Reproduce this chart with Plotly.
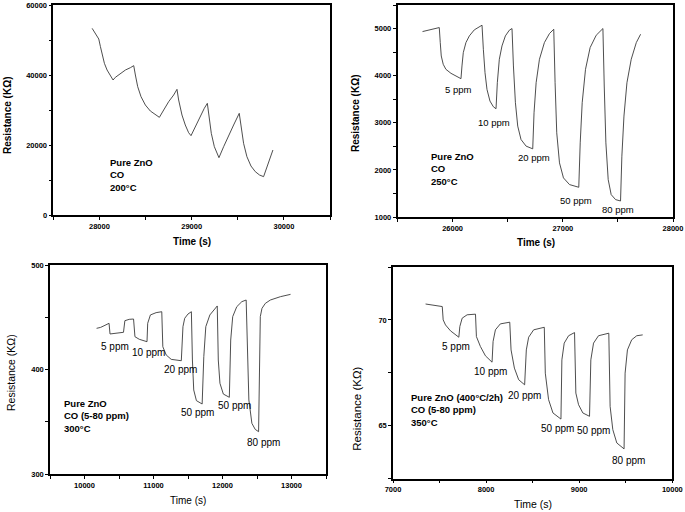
import plotly.graph_objects as go

# ---------------- data ----------------
# Panel A: Pure ZnO, CO, 200 °C
t200 = [27921, 27993, 28011, 28029, 28054, 28083, 28119, 28148, 28173, 28227, 28282, 28336, 28372,
        28390, 28415, 28451, 28498, 28552, 28606, 28650, 28697, 28751, 28805, 28841,
        28859, 28895, 28931, 28967, 28993, 29040, 29094, 29137, 29170,
        29188, 29213, 29246, 29274, 29296, 29347, 29401, 29455, 29516,
        29534, 29563, 29599, 29643, 29690, 29736, 29780, 29816, 29852, 29881]
r200 = [53333, 50286, 48095, 45714, 43333, 41429, 39714, 38571, 39333, 40476, 41429, 42095, 42667,
        40000, 36667, 33810, 31429, 29714, 28571, 27905, 30000, 32381, 34286, 35905,
        32857, 28571, 25714, 23524, 22667, 25238, 28571, 30476, 31905,
        28095, 23333, 19524, 17429, 16381, 19524, 22857, 25714, 29048,
        25238, 20476, 16667, 14000, 12381, 11429, 10952, 13810, 16190, 18571]

# Panel B: Pure ZnO, CO, 250 °C
t250 = [25727, 25879, 25888, 25897, 25915, 25939, 25985, 26030, 26076,
        26085, 26097, 26121, 26152, 26197, 26236, 26267,
        26279, 26294, 26312, 26339, 26370, 26394,
        26406, 26424, 26448, 26479, 26515, 26539,
        26552, 26570, 26591, 26621, 26667, 26727,
        26739, 26758, 26788, 26833, 26879, 26918,
        26930, 26945, 26970, 27006, 27061, 27145,
        27158, 27176, 27206, 27248, 27303, 27364,
        27376, 27391, 27412, 27439, 27479, 27524,
        27536, 27555, 27582, 27621, 27667, 27706]
r250 = [4936, 5021, 4702, 4418, 4241, 4135, 4050, 3993, 3936,
        4206, 4489, 4702, 4844, 4972, 5035, 5071,
        4560, 4064, 3709, 3461, 3340, 3298,
        3851, 4348, 4631, 4844, 4965, 5000,
        4206, 3426, 2929, 2645, 2504, 2447,
        3213, 3851, 4348, 4702, 4894, 4986,
        3851, 2787, 2149, 1830, 1688, 1631,
        2574, 3426, 4135, 4596, 4858, 5000,
        3780, 2574, 1794, 1475, 1369, 1340,
        2291, 3142, 3851, 4348, 4702, 4879]

# Panel C: Pure ZnO, CO (5-80 ppm), 300 °C
t300 = [10175, 10234, 10297, 10356, 10370, 10453, 10565, 10585, 10648, 10711,
        10731, 10794, 10906, 10916, 10955, 11038, 11120,
        11135, 11184, 11257, 11403, 11427, 11452, 11500, 11549,
        11564, 11583, 11622, 11705, 11729, 11758, 11817, 11890, 11924,
        11939, 11963, 12012, 12099, 12119, 12148, 12207, 12280, 12343,
        12362, 12382, 12426, 12474, 12523, 12538, 12548, 12572, 12621, 12694, 12840, 12986]
r300 = [439.4, 440.3, 442.3, 444.2, 434.0, 434.6, 435.6, 446.7, 448.0, 448.3,
        431.4, 428.9, 426.6, 444.2, 452.2, 454.4, 455.3,
        421.8, 413.9, 409.7, 408.4, 441.0, 449.0, 453.1, 455.3,
        409.1, 380.4, 370.2, 367.0, 412.3, 441.0, 452.2, 458.5, 460.8,
        409.1, 386.8, 376.5, 373.4, 428.2, 450.6, 460.1, 464.9, 466.5,
        402.7, 370.8, 348.5, 342.7, 340.5, 418.7, 450.6, 458.5, 463.3, 466.5, 469.7, 471.9]

# Panel D: Pure ZnO (400 °C/2h), CO (5-80 ppm), 350 °C
t350 = [7350, 7529, 7539, 7564, 7618, 7671, 7707, 7718, 7743, 7796, 7886,
        7896, 7939, 7993, 8064, 8075, 8100, 8153, 8254,
        8268, 8304, 8350, 8414, 8432, 8457, 8511, 8625,
        8636, 8671, 8718, 8804, 8814, 8839, 8886, 8950,
        8964, 8993, 9039, 9111, 9125, 9154, 9207, 9318,
        9332, 9361, 9404, 9482, 9493, 9518, 9564, 9618, 9682]
r350 = [70.75, 70.63, 70.00, 69.76, 69.48, 69.29, 69.18, 69.69, 70.08, 70.24, 70.27,
        69.21, 68.74, 68.30, 68.00, 68.98, 69.53, 69.81, 69.89,
        68.58, 67.72, 67.17, 66.93, 68.58, 69.18, 69.53, 69.65,
        67.48, 66.23, 65.60, 65.31, 68.11, 68.90, 69.25, 69.40,
        66.54, 65.99, 65.60, 65.44, 68.11, 68.90, 69.25, 69.37,
        65.91, 64.81, 64.18, 63.90, 67.48, 68.58, 69.06, 69.25, 69.29]

# concentration labels
lab250 = ["5 ppm", "10 ppm", "20 ppm", "50 ppm", "80 ppm"]
lab300 = ["5 ppm", "10 ppm", "20 ppm", "50 ppm", "50 ppm", "80 ppm"]
lab350 = ["5 ppm", "10 ppm", "20 ppm", "50 ppm", "50 ppm", "80 ppm"]

info200 = "<b>Pure ZnO<br>CO<br>200°C</b>"
info250 = "<b>Pure ZnO<br>CO<br>250°C</b>"
info300 = "<b>Pure ZnO<br>CO (5-80 ppm)<br>300°C</b>"
info350 = "<b>Pure ZnO (400°C/2h)<br>CO (5-80 ppm)<br>350°C</b>"

# ---------------- layout helpers ----------------
W, H = 685, 512
FONT = "Liberation Sans, Arial, sans-serif"
LINE = "#3a3a3a"

def px(x):
    return x / W

def py(y):
    return 1 - y / H

fig = go.Figure()
fig.add_trace(go.Scatter(x=t200, y=r200, mode="lines", line=dict(color=LINE, width=0.9), xaxis="x", yaxis="y"))
fig.add_trace(go.Scatter(x=t250, y=r250, mode="lines", line=dict(color=LINE, width=0.9), xaxis="x2", yaxis="y2"))
fig.add_trace(go.Scatter(x=t300, y=r300, mode="lines", line=dict(color=LINE, width=0.9), xaxis="x3", yaxis="y3"))
fig.add_trace(go.Scatter(x=t350, y=r350, mode="lines", line=dict(color=LINE, width=0.9), xaxis="x4", yaxis="y4"))

def axis(domain, rng, dtick, minor, anchor, fmt="d"):
    return dict(domain=domain, range=rng, dtick=dtick, tick0=0, anchor=anchor,
                tickformat=fmt, automargin=False,
                showgrid=False, zeroline=False, showline=True, linecolor="black",
                linewidth=1.5, mirror=True, ticks="outside", ticklen=3, tickwidth=1,
                tickcolor="black",
                tickfont=dict(family=FONT, size=7.5, color="#000000", weight="bold"),
                minor=dict(dtick=minor, ticks="outside", ticklen=3, tickwidth=1, tickcolor="black",
                           showgrid=False))

layout = dict(
    template="none",
    width=W, height=H, margin=dict(l=0, r=0, t=0, b=0, pad=0),
    paper_bgcolor="white", plot_bgcolor="white", showlegend=False,
    xaxis=axis([px(53.3), px(330)], [27500, 30500], 1000, 500, "y"),
    yaxis=axis([py(215), py(5)], [0, 60000], 20000, 10000, "x"),
    xaxis2=axis([px(397.5), px(673)], [25500, 28000], 1000, 500, "y2"),
    yaxis2=axis([py(217), py(5)], [1000, 5500], 1000, 500, "x2"),
    xaxis3=axis([px(50), px(326)], [9500, 13500], 1000, 500, "y3"),
    yaxis3=axis([py(474), py(265)], [300, 500], 100, 50, "x3"),
    xaxis4=axis([px(393), px(672.3)], [7000, 10000], 1000, 500, "y4"),
    yaxis4=axis([py(478.5), py(267)], [62.5, 72.5], 5, 2.5, "x4", fmt=""),
)
fig.update_layout(**layout)

ann = []

def txt(text, x, y, xref, yref, size, xanchor="center", yanchor="middle", align="center", angle=0):
    ann.append(dict(text=text, x=x, y=y, xref=xref, yref=yref, showarrow=False,
                    xanchor=xanchor, yanchor=yanchor, align=align, textangle=angle,
                    font=dict(family=FONT, size=size, color="black")))

# axis titles
txt("<b>Time (s)</b>", px(191.7), py(241.5), "paper", "paper", 10)
txt("<b>Resistance (KΩ)</b>", px(7), py(115), "paper", "paper", 10, angle=-90)
txt("<b>Time (s)</b>", px(535.7), py(242.3), "paper", "paper", 10)
txt("<b>Resistance (KΩ)</b>", px(355), py(113), "paper", "paper", 10, angle=-90)
txt("Time (s)", px(188), py(500), "paper", "paper", 10)
txt("Resistance (KΩ)", px(11), py(373), "paper", "paper", 10.5, angle=-90)
txt("Time (s)", px(532.7), py(504), "paper", "paper", 10.5)
txt("Resistance (KΩ)", px(356.7), py(409), "paper", "paper", 11.5, angle=-90)

# info blocks
txt(info200, 28093, 11429, "x", "y", 9.5, xanchor="left", align="left")
txt(info250, 25786, 2028, "x2", "y2", 9.5, xanchor="left", align="left")
txt(info300, 9674, 355.5, "x3", "y3", 9.5, xanchor="left", align="left")
txt(info350, 7175, 65.74, "x4", "y4", 9.5, xanchor="left", align="left")

# concentration labels
pos250 = [(26052, 3709), (26376, 2998), (26741, 2268), (27117, 1347), (27498, 1155)]
for s, (x, y) in zip(lab250, pos250):
    txt(s, x, y, "x2", "y2", 9.5)
pos300 = [(10442, 421.8), (10925, 416.1), (11384, 400.2), (11635, 358.7), (12167, 365.1), (12601, 330.3)]
for s, (x, y) in zip(lab300, pos300):
    txt(s, x, y, "x3", "y3", 10)
pos350 = [(7677, 68.73), (8049, 67.55), (8410, 66.41), (8765, 64.87), (9152, 64.76), (9527, 63.34)]
for s, (x, y) in zip(lab350, pos350):
    txt(s, x, y, "x4", "y4", 10)

fig.update_layout(annotations=ann)
fig.write_html("out.html", config={"displayModeBar": False},
               post_script="document.body.style.margin='0';document.body.style.overflow='hidden';")
